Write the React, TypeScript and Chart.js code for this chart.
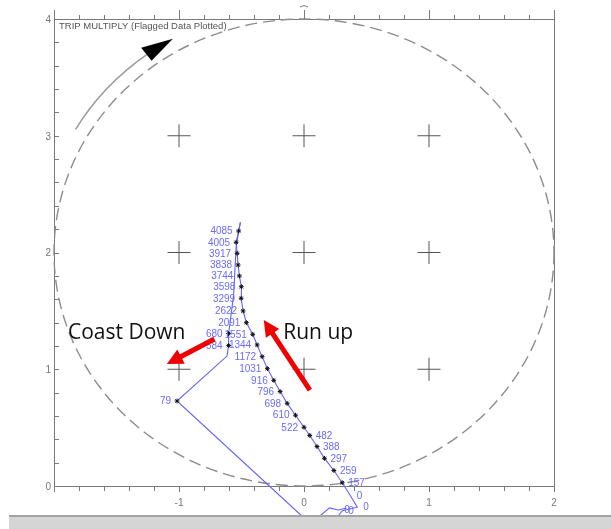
import React, { useEffect, useRef } from 'react';
import { Chart, registerables } from 'chart.js';

Chart.register(...registerables);

// ---------- data ----------
const TITLE = 'TRIP MULTIPLY (Flagged Data Plotted)';
const X_MIN = -2;
const X_MAX = 2;
const Y_MIN = 0;
const Y_MAX = 4;
const X_TICK_LABELS = [-1, 0, 1, 2];
const Y_TICK_LABELS = [0, 1, 2, 3, 4];
const MINOR_STEP = 0.2;

// run-up trace (bottom to top)
const RUNUP_X = [0.220, 0.306, 0.426, 0.373, 0.306, 0.239, 0.164, 0.104, 0.046, 0.000, -0.068, -0.135, -0.191, -0.242, -0.293, -0.335, -0.375, -0.410, -0.461, -0.487, -0.503, -0.501, -0.517, -0.527, -0.535, -0.543, -0.523, -0.509];
const RUNUP_Y = [-0.334, -0.212, -0.182, -0.086, 0.028, 0.133, 0.237, 0.338, 0.433, 0.503, 0.606, 0.708, 0.809, 0.905, 1.005, 1.108, 1.208, 1.299, 1.399, 1.499, 1.608, 1.707, 1.799, 1.893, 1.993, 2.087, 2.184, 2.259];
const RUNUP_LABELS = [null, '0', '0', '0', '157', '259', '297', '388', '482', '522', '610', '698', '796', '916', '1031', '1172', '1344', '1551', '2091', '2622', '3299', '3598', '3744', '3838', '3917', '4005', '4085', null];

// coast-down trace (top to bottom)
const COAST_X = [-0.509, -0.529, -0.543, -0.563, -0.603, -0.603, -0.616, -1.016, 0.052, 0.204, 0.274, 0.341];
const COAST_Y = [2.259, 2.141, 2.047, 1.636, 1.306, 1.203, 1.113, 0.728, -0.325, -0.188, -0.206, -0.188];
const COAST_LABELS = [null, null, null, null, '680', '584', null, '79', null, null, '0', null];

// crosshair reference marks
const CROSS_X = [-1, 0, 1];
const CROSS_Y = [1, 2, 3];

// reference circle (center, radius in data units)
const CIRCLE_CENTER = { x: 0, y: 2 };
const CIRCLE_RADIUS = 2;
// rotation arrow arc (radius, start angle, end angle, tip angle in degrees)
const ROT_ARC = { r: 2.11, from: 150, to: 126.6, tip: 119.8, wingIn: 2.045, wingOut: 2.185 };

// annotations (data coordinates)
const ANNOTATIONS = [
  { text: 'Coast Down', x: -1.888, y: 1.259, from: [-0.717, 1.259], to: [-1.097, 1.045] },
  { text: 'Run up', x: -0.166, y: 1.259, from: [0.047, 0.822], to: [-0.322, 1.422] },
];

// ---------- styles ----------
const AXIS_COLOR = '#7a7a7a';
const TICK_LABEL_COLOR = '#777777';
const LINE_BLUE = '#6262ff';
const LABEL_BLUE = '#6a6aff';
const FONT = '"Liberation Sans", Arial, sans-serif';

function drawArrow(ctx: CanvasRenderingContext2D, x1: number, y1: number, x2: number, y2: number, width: number, headLen: number, headHalf: number, color: string) {
  const ang = Math.atan2(y2 - y1, x2 - x1);
  const bx = x2 - headLen * Math.cos(ang);
  const by = y2 - headLen * Math.sin(ang);
  ctx.strokeStyle = color;
  ctx.lineWidth = width;
  ctx.lineCap = 'butt';
  ctx.beginPath();
  ctx.moveTo(x1, y1);
  ctx.lineTo(bx + Math.cos(ang), by + Math.sin(ang));
  ctx.stroke();
  ctx.fillStyle = color;
  ctx.beginPath();
  ctx.moveTo(x2, y2);
  ctx.lineTo(bx + headHalf * Math.sin(ang), by - headHalf * Math.cos(ang));
  ctx.lineTo(bx - headHalf * Math.sin(ang), by + headHalf * Math.cos(ang));
  ctx.closePath();
  ctx.fill();
}

const framePlugin = {
  id: 'frame',
  beforeDatasetsDraw(chart: any) {
    const { ctx, chartArea: a, scales } = chart;
    const xs = scales.x;
    const ys = scales.y;
    ctx.save();
    // box
    ctx.strokeStyle = AXIS_COLOR;
    ctx.lineWidth = 1;
    ctx.strokeRect(Math.round(a.left) + 0.5, Math.round(a.top) + 0.5, Math.round(a.right - a.left), Math.round(a.bottom - a.top));
    // x ticks (bottom outward, top outward)
    const nx = Math.round((X_MAX - X_MIN) / MINOR_STEP);
    ctx.beginPath();
    for (let i = 0; i <= nx; i++) {
      const v = X_MIN + i * MINOR_STEP;
      const major = Math.abs(v - Math.round(v)) < 1e-6;
      const px = Math.round(xs.getPixelForValue(v)) + 0.5;
      ctx.moveTo(px, a.bottom);
      ctx.lineTo(px, a.bottom + (major ? 6 : 5));
      ctx.moveTo(px, a.top);
      ctx.lineTo(px, a.top - (major ? 9 : 4));
    }
    // y ticks (left, inward)
    const ny = Math.round((Y_MAX - Y_MIN) / MINOR_STEP);
    for (let i = 0; i <= ny; i++) {
      const v = Y_MIN + i * MINOR_STEP;
      const py = Math.round(ys.getPixelForValue(v)) + 0.5;
      ctx.moveTo(a.left, py);
      ctx.lineTo(a.left + 5, py);
    }
    ctx.stroke();
    // small cursor mark above the top axis at x = 0
    const cx0 = xs.getPixelForValue(0);
    ctx.beginPath();
    ctx.moveTo(cx0 - 4, a.top - 12);
    ctx.quadraticCurveTo(cx0, a.top - 15, cx0 + 4, a.top - 12);
    ctx.stroke();
    // tick labels
    ctx.fillStyle = TICK_LABEL_COLOR;
    ctx.font = `10px ${FONT}`;
    ctx.textAlign = 'center';
    ctx.textBaseline = 'middle';
    X_TICK_LABELS.forEach((v) => {
      ctx.fillText(String(v), xs.getPixelForValue(v), a.bottom + 17);
    });
    ctx.textAlign = 'right';
    Y_TICK_LABELS.forEach((v) => {
      ctx.fillText(String(v), a.left - 3, ys.getPixelForValue(v) + 1);
    });
    // title
    ctx.fillStyle = '#555555';
    ctx.font = `9.5px ${FONT}`;
    ctx.textAlign = 'left';
    ctx.fillText(TITLE, a.left + 5, a.top + 7);

    // reference circle (dashed)
    const cx = xs.getPixelForValue(CIRCLE_CENTER.x);
    const cy = ys.getPixelForValue(CIRCLE_CENTER.y);
    const rx = xs.getPixelForValue(CIRCLE_CENTER.x + CIRCLE_RADIUS) - cx;
    const ry = cy - ys.getPixelForValue(CIRCLE_CENTER.y + CIRCLE_RADIUS);
    ctx.strokeStyle = '#8c8c8c';
    ctx.lineWidth = 1.4;
    ctx.setLineDash([12, 6]);
    ctx.beginPath();
    ctx.ellipse(cx, cy, rx, ry, 0, 0, Math.PI * 2);
    ctx.stroke();
    ctx.setLineDash([]);

    // rotation arc with arrowhead
    const k = ROT_ARC.r / CIRCLE_RADIUS;
    const d2r = Math.PI / 180;
    ctx.strokeStyle = '#9a9a9a';
    ctx.lineWidth = 1.5;
    ctx.beginPath();
    ctx.ellipse(cx, cy, rx * k, ry * k, 0, -ROT_ARC.from * d2r, -ROT_ARC.to * d2r, false);
    ctx.stroke();
    const pt = (r: number, deg: number) => [cx + rx * (r / CIRCLE_RADIUS) * Math.cos(deg * d2r), cy - ry * (r / CIRCLE_RADIUS) * Math.sin(deg * d2r)];
    const tip = pt(ROT_ARC.r, ROT_ARC.tip);
    const w1 = pt(ROT_ARC.wingIn, ROT_ARC.to);
    const w2 = pt(ROT_ARC.wingOut, ROT_ARC.to);
    ctx.fillStyle = '#000000';
    ctx.beginPath();
    ctx.moveTo(tip[0], tip[1]);
    ctx.lineTo(w1[0], w1[1]);
    ctx.lineTo(w2[0], w2[1]);
    ctx.closePath();
    ctx.fill();
    ctx.restore();
  },
  afterDatasetsDraw(chart: any) {
    const { ctx, scales } = chart;
    const xs = scales.x;
    const ys = scales.y;
    ctx.save();
    // point labels
    ctx.font = `10px ${FONT}`;
    ctx.fillStyle = LABEL_BLUE;
    ctx.textBaseline = 'middle';
    chart.data.datasets.forEach((ds: any, di: number) => {
      if (!ds.pointLabels) return;
      const meta = chart.getDatasetMeta(di);
      meta.data.forEach((el: any, i: number) => {
        const lab = ds.pointLabels[i];
        if (lab == null) return;
        const right = ds.data[i].y < 0.47;
        ctx.textAlign = right ? 'left' : 'right';
        ctx.fillText(lab, el.x + (right ? 6 : -6), el.y + 0.5);
      });
    });
    // annotations
    ANNOTATIONS.forEach((an) => {
      ctx.fillStyle = '#111111';
      ctx.font = '21px "Open Sans", "Noto Sans", sans-serif';
      ctx.textAlign = 'left';
      ctx.textBaseline = 'alphabetic';
      ctx.fillText(an.text, xs.getPixelForValue(an.x), ys.getPixelForValue(an.y));
      drawArrow(
        ctx,
        xs.getPixelForValue(an.from[0]), ys.getPixelForValue(an.from[1]),
        xs.getPixelForValue(an.to[0]), ys.getPixelForValue(an.to[1]),
        5, 16, 8, '#f00000'
      );
    });
    ctx.restore();
  },
};

const toPoints = (xs: number[], ys: number[]) => xs.map((x, i) => ({ x, y: ys[i] }));

export default function App() {
  const canvasRef = useRef<HTMLCanvasElement | null>(null);

  useEffect(() => {
    if (!canvasRef.current) return;
    const crosses: { x: number; y: number }[] = [];
    CROSS_Y.forEach((y) => CROSS_X.forEach((x) => crosses.push({ x, y })));

    const traceStyle = (labels: (string | null)[]) => ({
      showLine: true,
      borderColor: LINE_BLUE,
      borderWidth: 1.1,
      tension: 0,
      pointStyle: 'star',
      pointRadius: (c: any) => (labels[c.dataIndex] != null ? 2.4 : 0),
      pointBorderColor: '#111111',
      pointBackgroundColor: '#111111',
      pointBorderWidth: 1,
      clip: false,
      pointLabels: labels,
    });

    const chart = new Chart(canvasRef.current, {
      type: 'scatter',
      data: {
        datasets: [
          { label: 'Run up', data: toPoints(RUNUP_X, RUNUP_Y), ...traceStyle(RUNUP_LABELS) } as any,
          { label: 'Coast down', data: toPoints(COAST_X, COAST_Y), ...traceStyle(COAST_LABELS) } as any,
          {
            label: 'grid marks',
            data: crosses,
            showLine: false,
            pointStyle: 'cross',
            pointRadius: 11.5,
            pointBorderColor: '#555555',
            pointBorderWidth: 1,
            clip: false,
          } as any,
        ],
      },
      options: {
        animation: false,
        responsive: false,
        events: [],
        layout: { padding: { left: 54, right: 57, top: 19, bottom: 43 } },
        scales: {
          x: { type: 'linear', min: X_MIN, max: X_MAX, display: false },
          y: { type: 'linear', min: Y_MIN, max: Y_MAX, display: false },
        },
        plugins: { legend: { display: false }, tooltip: { enabled: false } },
      },
      plugins: [framePlugin],
    });
    return () => chart.destroy();
  }, []);

  return (
    <div style={{ position: 'fixed', left: 0, top: 0, width: 611, height: 529, background: '#ffffff', overflow: 'hidden' }}>
      <canvas ref={canvasRef} width={611} height={529} style={{ display: 'block', width: 611, height: 529 }} />
      <div
        style={{
          position: 'absolute',
          left: 9,
          top: 515,
          width: 602,
          height: 14,
          background: '#d5d5d5',
          borderTop: '2px solid #a4a4a4',
          boxSizing: 'border-box',
        }}
      />
    </div>
  );
}
